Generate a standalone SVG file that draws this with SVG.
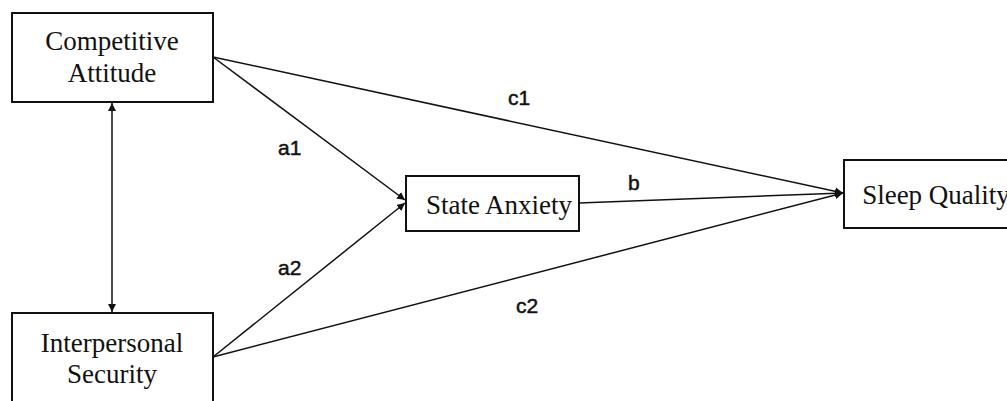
<svg xmlns="http://www.w3.org/2000/svg" width="1007" height="401" viewBox="0 0 1007 401">
<style>
.box{fill:#fff;stroke:#111;stroke-width:2}
.t{font-family:"Liberation Serif","Times New Roman",serif;font-size:27px;fill:#111;text-anchor:middle}
.l{font-family:"Liberation Sans",Arial,sans-serif;font-size:21px;fill:#111;stroke:#111;stroke-width:0.5}
.c{stroke:#111;stroke-width:1.5;fill:none}
</style>
<defs>
<marker id="ah" viewBox="0 0 10 10" refX="10" refY="5" markerWidth="8" markerHeight="8" markerUnits="userSpaceOnUse" orient="auto-start-reverse">
<path d="M0,0 L10,5 L0,10 Z" fill="#111"/>
</marker>
</defs>
<rect width="1007" height="401" fill="#fff"/>
<g id="connectors">
<line class="c" x1="112" y1="103" x2="112" y2="312" marker-start="url(#ah)" marker-end="url(#ah)"/>
<line class="c" x1="213" y1="57" x2="405" y2="200" marker-end="url(#ah)"/>
<line class="c" x1="213" y1="357" x2="405" y2="203" marker-end="url(#ah)"/>
<line class="c" x1="213" y1="57" x2="843" y2="193" marker-end="url(#ah)"/>
<line class="c" x1="213" y1="357" x2="843" y2="193" marker-end="url(#ah)"/>
<line class="c" x1="579" y1="203" x2="843" y2="193" marker-end="url(#ah)"/>
<text class="l" x="278" y="155">a1</text>
<text class="l" x="278" y="275">a2</text>
<text class="l" x="508" y="105">c1</text>
<text class="l" x="516" y="313">c2</text>
<text class="l" x="628" y="190">b</text>
</g>
<g id="competitive-attitude">
<rect class="box" x="12" y="13" width="201" height="89"/>
<text class="t" x="112" y="50">Competitive</text>
<text class="t" x="112" y="82">Attitude</text>
</g>
<g id="interpersonal-security">
<rect class="box" x="12" y="313" width="201" height="95"/>
<text class="t" x="112" y="352">Interpersonal</text>
<text class="t" x="112" y="383">Security</text>
</g>
<g id="state-anxiety">
<rect class="box" x="406" y="176" width="173" height="55"/>
<text class="t" x="499" y="214">State Anxiety</text>
</g>
<g id="sleep-quality">
<rect class="box" x="844" y="160" width="180" height="68"/>
<text class="t" x="936" y="204">Sleep Quality</text>
</g>
</svg>
